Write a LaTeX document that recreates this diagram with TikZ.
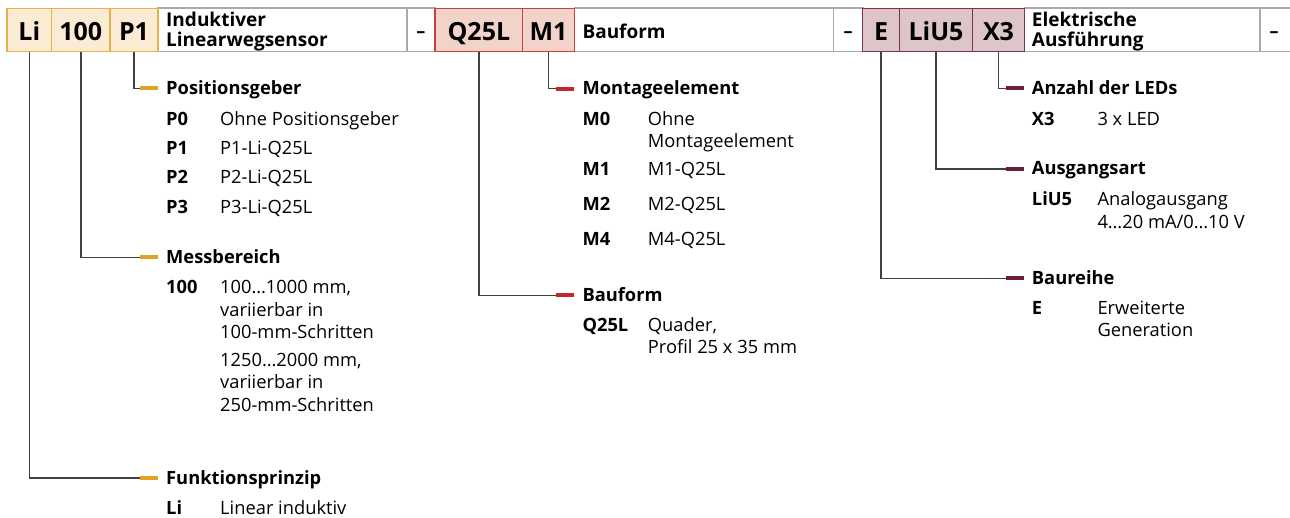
\documentclass[tikz,border=0pt]{standalone}
\usepackage{fontspec}
\setmainfont{Open Sans}
\newcommand\fsz[2]{\fontsize{#1}{#2}\selectfont}
\definecolor{oFill}{HTML}{FBEBD5}
\definecolor{oLine}{HTML}{E6B347}
\definecolor{oMark}{HTML}{E3A320}
\definecolor{rFill}{HTML}{F2D3CA}
\definecolor{rLine}{HTML}{CC3D3F}
\definecolor{rMark}{HTML}{C1272D}
\definecolor{dFill}{HTML}{DEC5CA}
\definecolor{dLine}{HTML}{7E3346}
\definecolor{dMark}{HTML}{6D1F33}
\definecolor{gLine}{HTML}{AAAAAA}
\definecolor{connC}{HTML}{404040}
\begin{document}
\begin{tikzpicture}[x=1pt,y=-1pt,
  cell/.style={anchor=north west, minimum height=43.4pt, inner sep=0pt, outer sep=0pt, line width=1.4pt, text height=21.4pt, text depth=0pt, font=\fsz{25}{30}\bfseries},
  cO/.style={cell, fill=oFill, draw=oLine},
  cR/.style={cell, fill=rFill, draw=rLine},
  cD/.style={cell, fill=dFill, draw=dLine},
  gcell/.style={anchor=north west, minimum height=43.4pt, inner sep=0pt, outer sep=0pt, draw=gLine, line width=1.6pt, text height=14.6pt, text depth=0pt, font=\fsz{18}{20}\bfseries},
  lbl/.style={anchor=base west, inner sep=0pt, align=left, font=\fsz{19}{19.5}\bfseries},
  markbar/.style={anchor=west, minimum width=17.7pt, minimum height=4.3pt, inner sep=0pt, outer sep=0pt},
  conn/.style={draw=connC, line width=1.3pt},
  headtext/.style={anchor=base west, inner sep=0pt, font=\fsz{18.3}{22}\bfseries},
  itemcode/.style={anchor=base west, inner sep=0pt, font=\fsz{18.3}{22}\bfseries},
  desctext/.style={anchor=base west, inner sep=0pt, align=left, font=\fsz{18.3}{22.5}}
]
\useasboundingbox (0,0) rectangle (1290,518);
% gray text cells
\node[gcell, minimum width=248.7pt] (t1) at (158,8.3) {};
\node[gcell, minimum width=28.3pt] (d1) at (406.7,8.3) {–};
\node[gcell, minimum width=259pt] (t2) at (574.3,8.3) {};
\node[gcell, minimum width=29.4pt] (d2) at (833.3,8.3) {–};
\node[gcell, minimum width=235.7pt] (t3) at (1024.3,8.3) {};
\node[gcell, minimum width=60pt] (d3) at (1260,8.3) {\hspace*{-32pt}–};
% coloured code cells
\node[cO, minimum width=44.7pt] (li) at (7,8.3) {Li};
\node[cO, minimum width=58.3pt] (c100) at (51.7,8.3) {100};
\node[cO, minimum width=48pt] (p1) at (110,8.3) {P1};
\node[cR, minimum width=87.7pt] (q25l) at (435,8.3) {Q25L};
\node[cR, minimum width=51.6pt] (m1) at (522.7,8.3) {M1};
\node[cD, minimum width=36.6pt] (e) at (862.7,8.3) {E};
\node[cD, minimum width=73.4pt] (liu5) at (899.3,8.3) {LiU5};
\node[cD, minimum width=51.6pt] (x3) at (972.7,8.3) {X3};
% header labels (anchored at the last baseline)
\node[lbl] (l1) at (166,46.2) {Induktiver\\Linearwegsensor};
\node[lbl] (l2) at (582.3,38.3) {Bauform};
\node[lbl] (l3) at (1031.7,46.2) {Elektrische\\Ausführung};

% ---- group 1 (orange)
\node[markbar, fill=oMark] (mpg) at (140,88.3) {};
\node[markbar, fill=oMark] (mmb) at (140,257.3) {};
\node[markbar, fill=oMark] (mfp) at (140,478) {};
\draw[conn] (p1.south) |- (mpg.west);
\draw[conn] (c100.south) |- (mmb.west);
\draw[conn] (li.south) |- (mfp.west);
\node[headtext] (hpg) at (166,94.3) {Positionsgeber};
\node[itemcode] (kp0) at (166,125.6) {P0};
\node[desctext] (vp0) at (220,125.6) {Ohne Positionsgeber};
\node[itemcode] (kp1) at (166,154.6) {P1};
\node[desctext] (vp1) at (220,154.6) {P1-Li-Q25L};
\node[itemcode] (kp2) at (166,184) {P2};
\node[desctext] (vp2) at (220,184) {P2-Li-Q25L};
\node[itemcode] (kp3) at (166,214) {P3};
\node[desctext] (vp3) at (220,214) {P3-Li-Q25L};
\node[headtext] (hmb) at (166,263.3) {Messbereich};
\node[itemcode] (k100) at (166,294) {100};
\node[desctext] (v100a) at (220,339) {100…1000 mm,\\variierbar in\\100-mm-Schritten};
\node[desctext] (v100b) at (220,411.3) {1250…2000 mm,\\variierbar in\\250-mm-Schritten};
\node[headtext] (hfp) at (166,484.3) {Funktionsprinzip};
\node[itemcode] (kli) at (166,514) {Li};
\node[desctext] (vli) at (220,514) {Linear induktiv};

% ---- group 2 (red)
\node[markbar, fill=rMark] (mme) at (556.3,88.7) {};
\node[markbar, fill=rMark] (mbf) at (556.3,295.3) {};
\draw[conn] (m1.south) |- (mme.west);
\draw[conn] (q25l.south) |- (mbf.west);
\node[headtext] (hme) at (582.3,94.7) {Montageelement};
\node[itemcode] (km0) at (582.3,125.6) {M0};
\node[desctext, font=\fsz{18.3}{21.7}] (vm0) at (647.7,147.3) {Ohne\\Montageelement};
\node[itemcode] (km1) at (582.3,175.6) {M1};
\node[desctext] (vm1) at (647.7,175.6) {M1-Q25L};
\node[itemcode] (km2) at (582.3,210.3) {M2};
\node[desctext] (vm2) at (647.7,210.3) {M2-Q25L};
\node[itemcode] (km4) at (582.3,245.3) {M4};
\node[desctext] (vm4) at (647.7,245.3) {M4-Q25L};
\node[headtext] (hbf) at (582.3,301.3) {Bauform};
\node[itemcode] (kq) at (582.3,331.3) {Q25L};
\node[desctext, font=\fsz{18.3}{22.3}] (vq) at (647.7,353.6) {Quader,\\Profil 25 x 35 mm};

% ---- group 3 (dark red)
\node[markbar, fill=dMark] (mled) at (1006.3,88.3) {};
\node[markbar, fill=dMark] (maa) at (1006.3,169) {};
\node[markbar, fill=dMark] (mbr) at (1006.3,278.3) {};
\draw[conn] (x3.south) |- (mled.west);
\draw[conn] (liu5.south) |- (maa.west);
\draw[conn] (e.south) |- (mbr.west);
\node[headtext] (hled) at (1031.7,94.3) {Anzahl der LEDs};
\node[itemcode] (kx3) at (1031.7,125.6) {X3};
\node[desctext] (vx3) at (1097.3,125.6) {3 x LED};
\node[headtext] (haa) at (1031.7,175) {Ausgangsart};
\node[itemcode] (kliu5) at (1031.7,205.3) {LiU5};
\node[desctext, font=\fsz{18.3}{23.3}] (vliu5) at (1097.3,228.6) {Analogausgang\\4…20 mA/0…10 V};
\node[headtext] (hbr) at (1031.7,284.3) {Baureihe};
\node[itemcode] (ke) at (1031.7,314.6) {E};
\node[desctext, font=\fsz{18.3}{21.7}] (ve) at (1097.3,336.3) {Erweiterte\\Generation};
\end{tikzpicture}
\end{document}
